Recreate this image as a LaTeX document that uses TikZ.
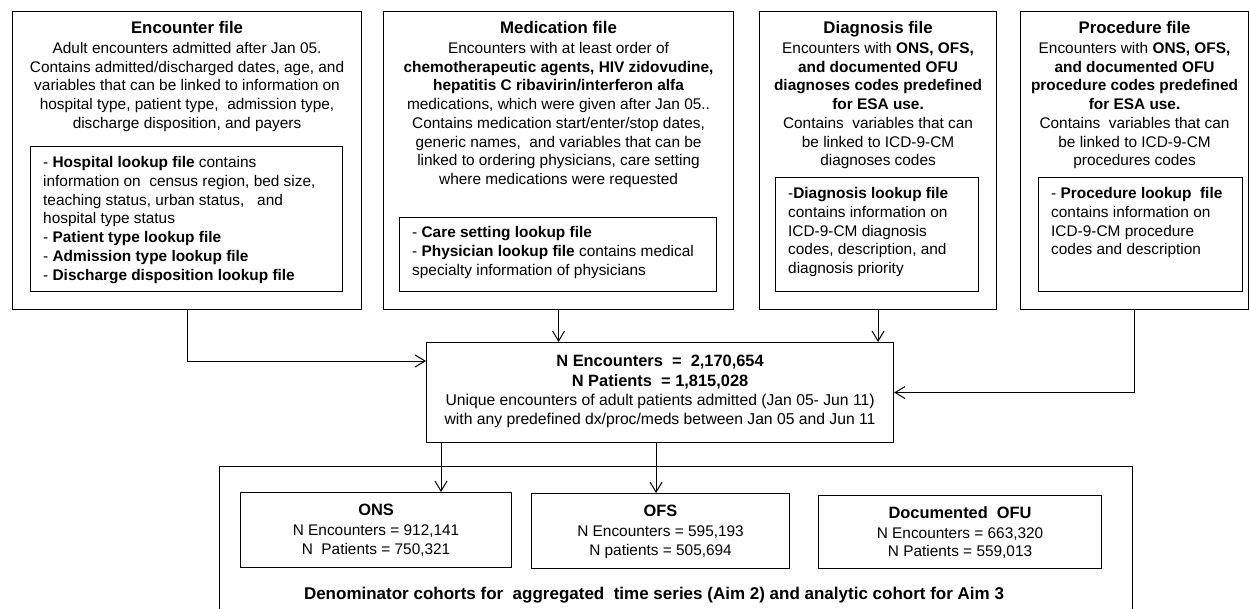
\documentclass[tikz,border=0pt]{standalone}
\usepackage{fontspec}
\setmainfont{Liberation Sans}
\usetikzlibrary{arrows.meta,calc}
\newcommand{\ttl}[1]{{\fontsize{16.8}{18.7}\selectfont\bfseries #1}}
\newcommand{\sttl}[1]{{\fontsize{16.4}{18.7}\selectfont\bfseries #1}}
\tikzset{
  box/.style={draw, line width=1.1pt, inner sep=0pt, anchor=north west},
  txt/.style={font=\fontsize{15.4}{18.7}\selectfont, inner sep=0pt, align=center, anchor=north},
  ltxt/.style={font=\fontsize{15.4}{18.7}\selectfont, inner sep=0pt, align=left, anchor=north west},
  arr/.style={-{Straight Barb[length=10pt,width=12pt]}, line width=1pt}
}
\begin{document}
\begin{tikzpicture}[x=1pt,y=-1pt]
\useasboundingbox (0,0) rectangle (1249,609);
\clip (0,0) rectangle (1249,609);
% boxes
\node[box, minimum width=349pt, minimum height=298pt] (enc) at (12,11) {};
\node[box, minimum width=312pt, minimum height=145pt] (encin) at (30,146) {};
\node[box, minimum width=350pt, minimum height=298pt] (med) at (383,11) {};
\node[box, minimum width=317pt, minimum height=74pt] (medin) at (399,217) {};
\node[box, minimum width=237pt, minimum height=298pt] (diag) at (759,11) {};
\node[box, minimum width=203pt, minimum height=114pt] (diagin) at (775,177) {};
\node[box, minimum width=228pt, minimum height=298pt] (proc) at (1020,11) {};
\node[box, minimum width=204pt, minimum height=114pt] (procin) at (1038,177) {};
\node[box, minimum width=467pt, minimum height=100pt] (cen) at (426,342) {};
\node[box, minimum width=913pt, minimum height=220pt] (big) at (219,466) {};
\node[box, minimum width=271pt, minimum height=75pt] (ons) at (240,492) {};
\node[box, minimum width=258pt, minimum height=75pt] (ofs) at (531,493) {};
\node[box, minimum width=283pt, minimum height=73pt] (ofu) at (818,495) {};

% texts
\node[txt] (enct) at (enc.north |- 0,21) {\ttl{Encounter file}\\[1.5pt]
Adult encounters admitted after Jan 05.\\
Contains admitted/discharged dates, age, and\\
variables that can be linked to information on\\
hospital type, patient type,\ \ admission type,\\
discharge disposition, and payers};
\node[ltxt] (encint) at (43,156.5) {- \textbf{Hospital lookup file} contains\\
information on\ \ census region, bed size,\\
teaching status, urban status,\ \ \ and\\
hospital type status\\
- \textbf{Patient type lookup file}\\
- \textbf{Admission type lookup file}\\
- \textbf{Discharge disposition lookup file}};

\node[txt] (medt) at (med.north |- 0,21) {\ttl{Medication file}\\[1.5pt]
Encounters with at least order of\\
\textbf{chemotherapeutic agents, HIV zidovudine,}\\
\textbf{hepatitis C ribavirin/interferon alfa}\\
medications, which were given after Jan 05..\\
Contains medication start/enter/stop dates,\\
generic names,\ \ and variables that can be\\
linked to ordering physicians, care setting\\
where medications were requested};
\node[ltxt] (medint) at (412,226.5) {- \textbf{Care setting lookup file}\\
- \textbf{Physician lookup file} contains medical\\
specialty information of physicians};

\node[txt] (diagt) at (diag.north |- 0,21) {\ttl{Diagnosis file}\\[1.5pt]
Encounters with \textbf{ONS, OFS,}\\
\textbf{and documented OFU}\\
\textbf{diagnoses codes predefined}\\
\textbf{for ESA use.}\\
Contains\ \ variables that can\\
be linked to ICD-9-CM\\
diagnoses codes};
\node[ltxt] (diagint) at (788,187.5) {-\textbf{Diagnosis lookup file}\\
contains information on\\
ICD-9-CM diagnosis\\
codes, description, and\\
diagnosis priority};

\node[txt] (proct) at (proc.north |- 0,21) {\ttl{Procedure file}\\[1.5pt]
Encounters with \textbf{ONS, OFS,}\\
\textbf{and documented OFU}\\
\textbf{procedure codes predefined}\\
\textbf{for ESA use.}\\
Contains\ \ variables that can\\
be linked to ICD-9-CM\\
procedures codes};
\node[ltxt] (procint) at (1051,187.5) {- \textbf{Procedure lookup\ \ file}\\
contains information on\\
ICD-9-CM procedure\\
codes and description};

\node[txt, font=\fontsize{15.7}{19.3}\selectfont] (cent) at (cen.north |- 0,355) {\sttl{N Encounters\ \ =\ \ 2,170,654}\\[0.5pt]
\sttl{N Patients\ \ = 1,815,028}\\
Unique encounters of adult patients admitted (Jan 05- Jun 11)\\[-1pt]
with any predefined dx/proc/meds between Jan 05 and Jun 11};

\node[txt] (onst) at (ons.north |- 0,504) {\sttl{ONS}\\[1.5pt] N Encounters = 912,141\\ N\ \ Patients = 750,321};
\node[txt] (ofst) at (ofs.north |- 0,504.5) {\sttl{OFS}\\[1.5pt] N Encounters = 595,193\\ N patients = 505,694};
\node[txt] (ofut) at (ofu.north |- 0,506) {\sttl{Documented\ \ OFU}\\[1.5pt] N Encounters = 663,320\\ N Patients = 559,013};
\node[txt] (bigt) at (654,587) {\fontsize{17}{19}\selectfont\bfseries Denominator cohorts for\ \ aggregated\ \ time series (Aim 2) and analytic cohort for Aim 3};

% connectors
\coordinate (cenw) at ($(cen.north west)+(0,19)$);
\draw[arr] (enc.south) |- (cenw);
\draw[arr] (med.south) -- (med.south |- cen.north);
\draw[arr] (diag.south) -- (diag.south |- cen.north);
\draw[arr] (proc.south) |- (cen.east);
\coordinate (c1) at ($(cen.south west)+(15,0)$);
\coordinate (c2) at ($(cen.south)+(-4,0)$);
\draw[arr] (c1) -- (c1 |- ons.north);
\draw[arr] (c2) -- (c2 |- ofs.north);
\end{tikzpicture}
\end{document}
